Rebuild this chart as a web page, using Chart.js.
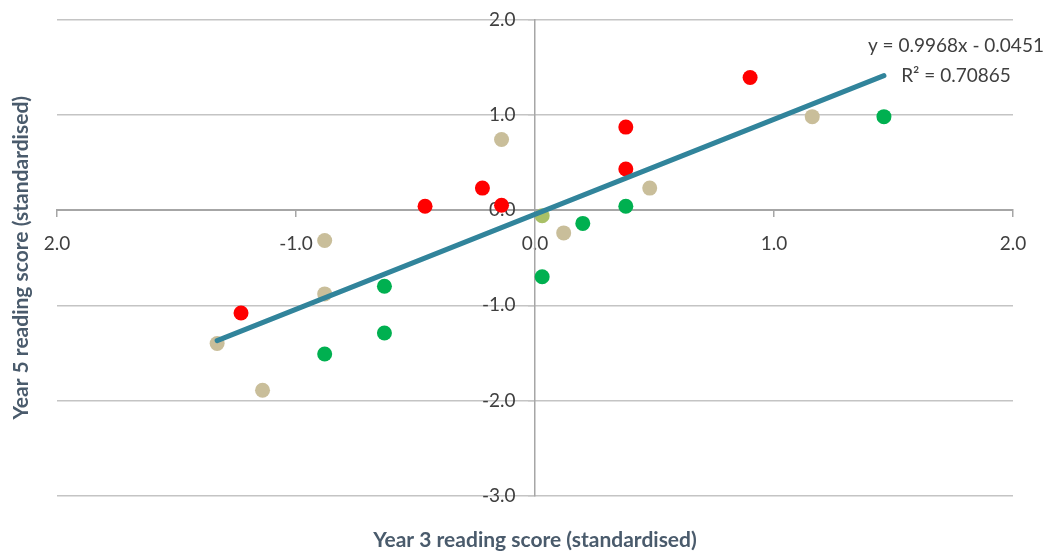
<!DOCTYPE html>
<html><head><meta charset="utf-8">
<script src="https://cdn.jsdelivr.net/npm/chart.js@4/dist/chart.umd.min.js"></script>
<style>html,body{margin:0;padding:0;background:#fff;overflow:hidden}#wrap{width:1053px;height:551px;position:relative}</style>
</head><body><div id="wrap"><canvas id="c"></canvas></div>
<script>
const xTickValues = [-2, -1, 0, 1, 2];
const xTickLabels = ['2.0', '-1.0', '0.0', '1.0', '2.0'];
const yTickValues = [2, 1, 0, -1, -2, -3];
const yTickLabels = ['2.0', '1.0', '0.0', '-1.0', '-2.0', '-3.0'];

const redX = [-1.23, -0.46, -0.22, -0.14, 0.38, 0.38, 0.90];
const redY = [-1.08, 0.04, 0.23, 0.05, 0.87, 0.43, 1.39];
const tanX = [-1.33, -1.14, -0.88, -0.88, -0.14, 0.12, 0.48, 1.16];
const tanY = [-1.40, -1.89, -0.32, -0.88, 0.74, -0.24, 0.23, 0.98];
const oliveX = [0.03];
const oliveY = [-0.06];
const greenX = [-0.88, -0.63, -0.63, 0.03, 0.20, 0.38, 1.46];
const greenY = [-1.51, -1.29, -0.80, -0.70, -0.14, 0.04, 0.98];

const trendX = [-1.33, 1.46];
const trendY = [-1.37, 1.41];
const trendText = ['y = 0.9968x - 0.0451', 'R\u00B2 = 0.70865'];

const xTitle = 'Year 3 reading score (standardised)';
const yTitle = 'Year 5 reading score (standardised)';

const pts = (xs, ys) => xs.map((x, i) => ({x: x, y: ys[i]}));
const FONT = 'Lato, "Open Sans", sans-serif';
const TICK_COLOR = '#3f3f3f';
const TITLE_COLOR = '#4a5b6c';

const trendLabel = {
  id: 'trendLabel',
  afterDatasetsDraw(chart) {
    const {ctx, scales} = chart;
    const px = scales.x.getPixelForValue(trendX[1]);
    const py = scales.y.getPixelForValue(trendY[1]);
    ctx.save();
    ctx.font = '19px ' + FONT;
    ctx.fillStyle = TICK_COLOR;
    ctx.textAlign = 'center';
    ctx.textBaseline = 'middle';
    ctx.fillText(trendText[0], px + 72, py - 30);
    ctx.fillText(trendText[1], px + 72, py);
    ctx.restore();
  }
};

new Chart(document.getElementById('c'), {
  type: 'scatter',
  data: {
    datasets: [
      {type: 'line', data: pts(trendX, trendY), borderColor: '#31849b', borderWidth: 5, pointRadius: 0, fill: false, borderCapStyle: 'round'},
      {data: pts(redX, redY), backgroundColor: '#ff0000', borderWidth: 0, pointRadius: 7.5},
      {data: pts(tanX, tanY), backgroundColor: '#c9be9a', borderWidth: 0, pointRadius: 7.5},
      {data: pts(oliveX, oliveY), backgroundColor: '#a9c066', borderWidth: 0, pointRadius: 7.5},
      {data: pts(greenX, greenY), backgroundColor: '#00b050', borderWidth: 0, pointRadius: 7.5}
    ]
  },
  options: {
    responsive: true,
    maintainAspectRatio: false,
    animation: false,
    devicePixelRatio: 1,
    layout: {padding: {top: 18, right: 40, left: 0, bottom: 0}},
    plugins: {legend: {display: false}, tooltip: {enabled: false}},
    scales: {
      x: {
        type: 'linear', min: -2, max: 2, position: {y: 0},
        afterBuildTicks: s => { s.ticks = xTickValues.map(v => ({value: v})); },
        ticks: {
          callback: v => xTickLabels[xTickValues.indexOf(v)],
          font: {family: FONT, size: 19}, color: TICK_COLOR, padding: 16, maxRotation: 0, autoSkip: false
        },
        grid: {drawOnChartArea: false, drawTicks: true, tickLength: 6, color: '#a6a6a6', lineWidth: 1.5},
        border: {color: '#a6a6a6', width: 2}
      },
      y: {
        type: 'linear', min: -3, max: 2, position: {x: 0},
        afterBuildTicks: s => { s.ticks = yTickValues.map(v => ({value: v})); },
        ticks: {
          callback: v => yTickLabels[yTickValues.indexOf(v)] + '    ',
          font: {family: FONT, size: 19}, color: TICK_COLOR, padding: 8, autoSkip: false
        },
        grid: {color: '#c4c4c4', lineWidth: 1.5, tickLength: 6},
        border: {color: '#a6a6a6', width: 1.5}
      },
      xt: {
        axis: 'x', type: 'linear', position: 'bottom', min: 0, max: 1,
        ticks: {display: false}, grid: {display: false}, border: {display: false},
        title: {display: true, text: xTitle, color: TITLE_COLOR, font: {family: FONT, size: 21, weight: 'bold', lineHeight: 1.0}, padding: {top: 0, bottom: 0}},
        afterFit: s => { s.height = 55; }
      },
      yt: {
        axis: 'y', type: 'linear', position: 'left', min: 0, max: 1,
        ticks: {display: false}, grid: {display: false}, border: {display: false},
        title: {display: true, text: yTitle, color: TITLE_COLOR, font: {family: FONT, size: 21, weight: 'bold', lineHeight: 1.0}, padding: {top: 11, bottom: 0}},
        afterFit: s => { s.width = 57; }
      }
    }
  },
  plugins: [trendLabel]
});
</script>
</body></html>
